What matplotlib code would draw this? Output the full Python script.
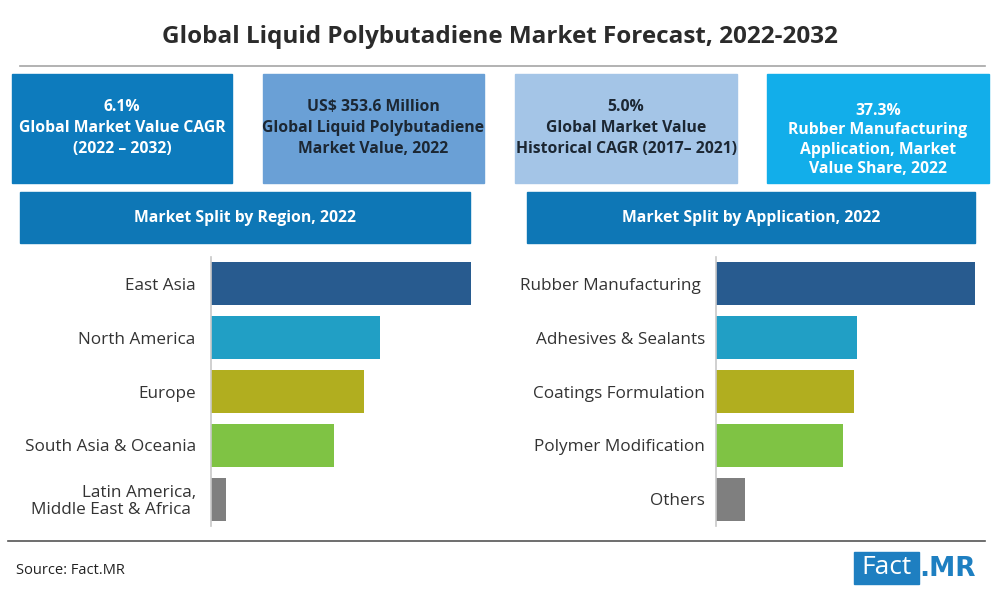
import matplotlib.pyplot as plt
from matplotlib.patches import Rectangle
from matplotlib.lines import Line2D

plt.rcParams['font.family'] = ['Open Sans', 'DejaVu Sans']

# data
regions = ['East Asia', 'North America', 'Europe', 'South Asia & Oceania',
           'Latin America,\nMiddle East & Africa ']
region_share = [36.1, 23.5, 21.3, 17.1, 2.1]
applications = ['Rubber Manufacturing ', 'Adhesives & Sealants', 'Coatings Formulation',
                'Polymer Modification', 'Others']
app_share = [37.3, 20.3, 19.9, 18.3, 4.2]
bar_colors = ['#285b8f', '#219fc5', '#b1ae1f', '#7fc344', '#7f7f7f']

cards = [
    ('6.1%\nGlobal Market Value CAGR\n(2022 – 2032)', '#0d7bbd', 'white'),
    ('US$ 353.6 Million\nGlobal Liquid Polybutadiene\nMarket Value, 2022', '#6aa0d6', '#1c2733'),
    ('5.0%\nGlobal Market Value\nHistorical CAGR (2017– 2021)', '#a4c5e7', '#1c2733'),
    ('37.3%\nRubber Manufacturing\nApplication, Market\nValue Share, 2022', '#12aeea', 'white'),
]

W, H = 1000, 600
fig = plt.figure(figsize=(10, 6), dpi=100)
fig.patch.set_facecolor('white')


def px_rect(x0, y0, x1, y1, color):
    fig.patches.append(Rectangle((x0 / W, 1 - y1 / H), (x1 - x0) / W, (y1 - y0) / H,
                                 transform=fig.transFigure, color=color, zorder=0))


def px_text(x, y, s, **kw):
    return fig.text(x / W, 1 - y / H, s, **kw)


px_text(500, 37, 'Global Liquid Polybutadiene Market Forecast, 2022-2032',
        ha='center', va='center', fontsize=17.5, fontweight='bold', color='#2b2b2b')
fig.lines.append(Line2D([0.02, 0.985], [1 - 66 / H] * 2, transform=fig.transFigure,
                        color='#a5a5a5', lw=1.2))

card_x = [(12, 232), (263, 484), (515, 737), (767, 989)]
for (x0, x1), (txt, bg, fg) in zip(card_x, cards):
    px_rect(x0, 74, x1, 183, bg)
    four = txt.count('\n') == 3
    px_text((x0 + x1) / 2, 140 if four else 128, txt, ha='center', va='center',
            fontsize=11.3, fontweight='bold', color=fg,
            linespacing=1.3 if four else 1.45)

px_rect(20, 192, 470, 243, '#0e77b6')
px_text(245, 217.5, 'Market Split by Region, 2022', ha='center', va='center',
        fontsize=11.3, fontweight='bold', color='white')
px_rect(527, 192, 975, 243, '#0e77b6')
px_text(751, 217.5, 'Market Split by Application, 2022', ha='center', va='center',
        fontsize=11.3, fontweight='bold', color='white')


def bar_panel(left_px, right_px, labels, values, pad):
    ax = fig.add_axes([left_px / W, 1 - 526 / H, (right_px - left_px) / W, (526 - 257) / H])
    ypos = list(range(len(labels)))
    ax.barh(ypos, values, height=0.8, color=bar_colors)
    ax.set_xlim(0, max(values))
    ax.set_ylim(len(labels) - 0.5, -0.5)
    ax.set_yticks(ypos)
    ax.set_yticklabels(labels, fontsize=12.3, color='#333333')
    ax.tick_params(axis='y', length=0, pad=pad)
    ax.set_xticks([])
    for s in ['top', 'right', 'bottom']:
        ax.spines[s].set_visible(False)
    ax.spines['left'].set_color('#c8c8c8')
    ax.spines['left'].set_linewidth(1.2)
    ax.patch.set_alpha(0)
    for lab in ax.get_yticklabels():
        lab.set_multialignment('right')
        lab.set_linespacing(1.05)
    return ax


bar_panel(211, 471, regions, region_share, 11)
bar_panel(716, 975, applications, app_share, 8)

fig.lines.append(Line2D([0.008, 0.985], [1 - 541 / H] * 2, transform=fig.transFigure,
                        color='#555555', lw=1.2))
px_text(16, 570, 'Source: Fact.MR', ha='left', va='center', fontsize=10.5, color='#222222')

px_rect(854, 552, 919, 584, '#1e7fc1')
px_text(886.5, 568, 'Fact', ha='center', va='center', fontsize=19, color='white')
px_text(919, 569, '.MR', ha='left', va='center', fontsize=19, fontweight='bold',
        color='#1e7fc1', family=['DejaVu Sans'])

fig.savefig('out.png', dpi=100, facecolor='white')
